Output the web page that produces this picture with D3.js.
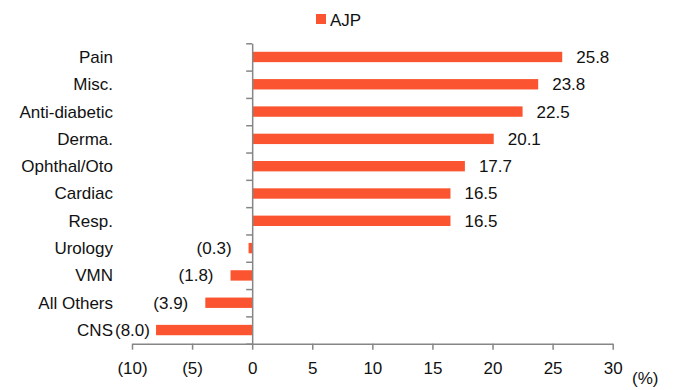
<!DOCTYPE html>
<html>
<head>
<meta charset="utf-8">
<script src="https://cdn.jsdelivr.net/npm/d3@7"></script>
<style>
  body { margin: 0; background: #fff; }
  text { font-family: "Liberation Sans", Arial, sans-serif; fill: #111; }
</style>
</head>
<body>
<div id="chart"></div>
<script>
var categories = ["Pain", "Misc.", "Anti-diabetic", "Derma.", "Ophthal/Oto", "Cardiac", "Resp.", "Urology", "VMN", "All Others", "CNS"];
var ajp = [25.8, 23.8, 22.5, 20.1, 17.7, 16.5, 16.5, -0.3, -1.8, -3.9, -8.0];
var xTicks = [-10, -5, 0, 5, 10, 15, 20, 25, 30];
var seriesName = "AJP";

var width = 678, height = 390;
var barColor = "#FA5530";
var axisColor = "#868686";

var svg = d3.select("#chart")
    .append("svg")
    .attr("width", width)
    .attr("height", height)

var x = d3.scaleLinear().domain([-10, 30]).range([132, 612.7]);
var y = d3.scaleBand().domain(categories).range([43.3, 343.7])
    .paddingInner(0.62).paddingOuter(0.31);
// band boundaries for the left axis ticks
var yEdge = d3.scaleLinear().domain([0, categories.length]).range([43.3, 343.7]);

var fmt = function(v) {
    return v < 0 ? "(" + d3.format(".1f")(-v) + ")" : d3.format(".1f")(v);
}

// bars
svg.append("g")
    .selectAll("rect")
    .data(ajp)
    .enter()
    .append("rect")
    .attr("x", function(d) { return x(Math.min(0, d)); })
    .attr("y", function(d, i) { return y(categories[i]); })
    .attr("width", function(d) { return Math.abs(x(d) - x(0)); })
    .attr("height", y.bandwidth())
    .attr("fill", barColor)

// x axis
var xAxis = svg.append("g")
    .attr("transform", "translate(0," + yEdge(categories.length) + ")")
    .call(d3.axisBottom(x)
        .tickValues(xTicks)
        .tickSize(6)
        .tickSizeOuter(0)
        .tickPadding(12)
        .tickFormat(function(d) { return d < 0 ? "(" + (-d) + ")" : d; }))
xAxis.selectAll("path, line").attr("stroke", axisColor).attr("stroke-width", 1.5)
xAxis.selectAll("text")
    .style("font-family", "Liberation Sans, Arial, sans-serif")
    .style("font-size", "17px")
    .attr("fill", "#111")

svg.append("text")
    .attr("x", 632)
    .attr("y", 384)
    .style("font-size", "17px")
    .text("(%)")

// y axis at zero
var yAxis = svg.append("g")
    .attr("transform", "translate(" + x(0) + ",0)")
    .call(d3.axisLeft(yEdge)
        .tickValues(d3.range(categories.length + 1))
        .tickSize(6)
        .tickSizeOuter(0)
        .tickFormat(""))
yAxis.selectAll("path, line").attr("stroke", axisColor).attr("stroke-width", 1.5)

// category labels
svg.append("g")
    .selectAll("text")
    .data(categories)
    .enter()
    .append("text")
    .attr("x", 113)
    .attr("y", function(d) { return y(d) + y.bandwidth() / 2; })
    .attr("dy", "0.35em")
    .attr("text-anchor", "end")
    .style("font-size", "17px")
    .text(function(d) { return d; })

// value labels
var vals = svg.append("g")
    .selectAll("text")
    .data(ajp)
    .enter()
    .append("text")
    .attr("y", function(d, i) { return y(categories[i]) + y.bandwidth() / 2; })
    .attr("dy", "0.35em")
    .style("font-size", "17px")
    .text(fmt)

vals.each(function(d) {
    var t = d3.select(this);
    if (d >= 0) {
        t.attr("x", x(d) + 14).attr("text-anchor", "start");
    } else {
        var w = this.getComputedTextLength();
        var right = Math.max(x(d) - 17, 115 + w); // keep clear of the category label
        t.attr("x", right).attr("text-anchor", "end");
    }
})

// legend
svg.append("rect")
    .attr("x", 316).attr("y", 14)
    .attr("width", 10).attr("height", 10)
    .attr("fill", barColor)
svg.append("text")
    .attr("x", 330).attr("y", 26)
    .style("font-size", "17px")
    .text(seriesName)
</script>
</body>
</html>
